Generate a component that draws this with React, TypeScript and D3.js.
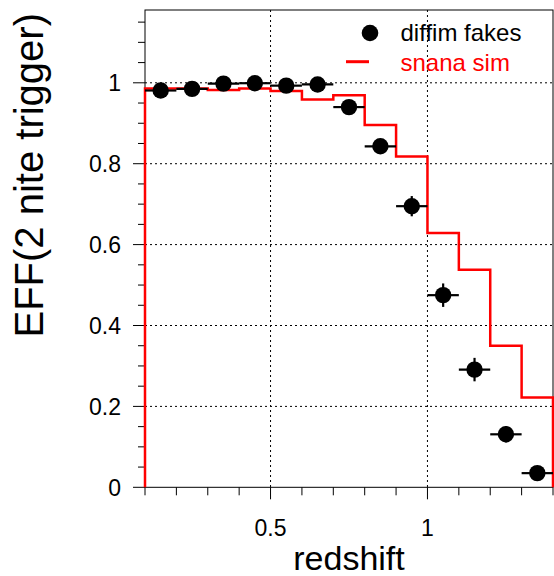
import React from "react";
import * as d3 from "d3";

// Data points (diffim fakes)
const pointX = [0.15, 0.25, 0.35, 0.45, 0.55, 0.65, 0.75, 0.85, 0.95, 1.05, 1.15, 1.25, 1.35];
const pointY = [0.981, 0.985, 0.998, 0.999, 0.993, 0.996, 0.94, 0.843, 0.695, 0.475, 0.291, 0.131, 0.035];
const pointYErr = [0.005, 0.005, 0.005, 0.005, 0.005, 0.005, 0.01, 0.015, 0.025, 0.029, 0.029, 0.02, 0.012];
const pointXErr = 0.05;

// Histogram (snana sim)
const binEdges = [0.1, 0.2, 0.3, 0.4, 0.5, 0.6, 0.7, 0.8, 0.9, 1.0, 1.1, 1.2, 1.3, 1.4];
const binValues = [0.986, 0.986, 0.982, 0.986, 0.98, 0.959, 0.969, 0.896, 0.818, 0.629, 0.538, 0.35, 0.222];

const xMajorTicks = [0.5, 1];
const xMinorTicks = [0.1, 0.2, 0.3, 0.4, 0.5, 0.6, 0.7, 0.8, 0.9, 1.0, 1.1, 1.2, 1.3, 1.4];
const yMajorTicks = [0, 0.2, 0.4, 0.6, 0.8, 1];
const yTickLabels = ["0", "0.2", "0.4", "0.6", "0.8", "1"];
const yGrid = [0.2, 0.4, 0.6, 0.8, 1];
const xDomain: [number, number] = [0.1, 1.4];
const yDomain: [number, number] = [0, 1.18];

export default function App() {
  const W = 554, H = 576;
  const left = 145, right = 553, top = 10, bottom = 487.3;
  const x = d3.scaleLinear().domain(xDomain).range([left, right]);
  const y = d3.scaleLinear().domain(yDomain).range([bottom, top]);
  const font = "'Liberation Sans', Arial, Helvetica, sans-serif";

  const yMinor = d3.range(0, 1.151, 0.05);

  const histPts: [number, number][] = [[binEdges[0], 0]];
  binValues.forEach((v, i) => {
    histPts.push([binEdges[i], v]);
    histPts.push([binEdges[i + 1], v]);
  });
  histPts.push([binEdges[binEdges.length - 1], 0]);
  const histLine = d3.line<[number, number]>().x(d => x(d[0])).y(d => y(d[1]));

  return (
    <svg width={W} height={H} style={{ position: "absolute", left: 0, top: 0, background: "#fff" }} fontFamily={font}>
      <rect x={0} y={0} width={W} height={H} fill="#fff" />
      {/* grid */}
      {yGrid.map(v => (
        <line key={"gy" + v} x1={left} x2={right} y1={y(v)} y2={y(v)} stroke="#000" strokeWidth={1} strokeDasharray="2,3" />
      ))}
      {xMajorTicks.map(v => (
        <line key={"gx" + v} x1={x(v)} x2={x(v)} y1={top} y2={bottom} stroke="#000" strokeWidth={1} strokeDasharray="2,3" />
      ))}
      {/* frame */}
      <rect x={left} y={top} width={right - left} height={bottom - top} fill="none" stroke="#000" strokeWidth={1} />
      {/* x ticks */}
      {xMinorTicks.map(v => (
        <line key={"xt" + v} x1={x(v)} x2={x(v)} y1={bottom} y2={bottom + (xMajorTicks.some(m => Math.abs(m - v) < 1e-6) ? 12 : 8)} stroke="#000" strokeWidth={1} />
      ))}
      {xMajorTicks.map(v => (
        <text key={"xl" + v} x={x(v)} y={536} fontSize={23} textAnchor="middle" fill="#000">{v === 1 ? "1" : String(v)}</text>
      ))}
      {/* y ticks */}
      {yMinor.map(v => (
        <line key={"yt" + v} x1={left} x2={left - (yMajorTicks.some(m => Math.abs(m - v) < 1e-6) ? 12 : 7)} y1={y(v)} y2={y(v)} stroke="#000" strokeWidth={1} />
      ))}
      {yMajorTicks.map((v, i) => (
        <text key={"yl" + v} x={121} y={y(v)} dy="0.36em" fontSize={23} textAnchor="end" fill="#000">{yTickLabels[i]}</text>
      ))}
      {/* histogram */}
      <path d={histLine(histPts) || ""} fill="none" stroke="#ff0000" strokeWidth={2.5} />
      {/* points */}
      {pointX.map((px, i) => (
        <g key={"p" + i}>
          <line x1={x(px - pointXErr)} x2={x(px + pointXErr)} y1={y(pointY[i])} y2={y(pointY[i])} stroke="#000" strokeWidth={2.2} />
          <line x1={x(px)} x2={x(px)} y1={y(pointY[i] - pointYErr[i])} y2={y(pointY[i] + pointYErr[i])} stroke="#000" strokeWidth={2.2} />
          <circle cx={x(px)} cy={y(pointY[i])} r={8.2} fill="#000" />
        </g>
      ))}
      {/* legend */}
      <circle cx={370} cy={33} r={8.3} fill="#000" />
      <text x={400.5} y={40.5} fontSize={24} fill="#000">diffim fakes</text>
      <line x1={346} x2={369} y1={61.7} y2={61.7} stroke="#ff0000" strokeWidth={3} />
      <text x={400.5} y={71} fontSize={24} fill="#ff0000">snana sim</text>
      {/* axis titles */}
      <text x={(left + right) / 2} y={569.5} fontSize={34} textAnchor="middle" fill="#000">redshift</text>
      <text transform="rotate(-90)" x={-13} y={43.3} fontSize={40} textAnchor="end" fill="#000">EFF(2 nite trigger)</text>
    </svg>
  );
}
